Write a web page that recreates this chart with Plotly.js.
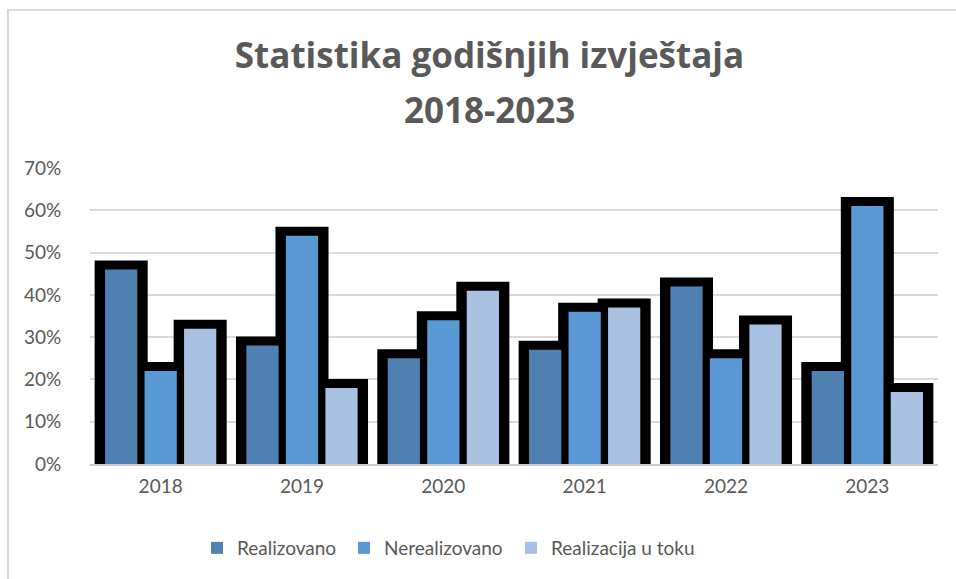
<!DOCTYPE html>
<html>
<head>
<meta charset="utf-8">
<script src="https://cdn.plot.ly/plotly-3.0.1.min.js"></script>
<style>
  html, body { margin: 0; padding: 0; background: #ffffff; overflow: hidden; }
  #wrap { position: absolute; left: 0; top: 0; width: 956px; height: 579px; }
  #frame { position: absolute; left: 7px; top: 9px; width: 1000px; height: 1000px;
           border-top: 2px solid #d9d9d9; border-left: 2px solid #d9d9d9; pointer-events: none; }
  #chart { position: absolute; left: 0; top: 0; width: 956px; height: 579px; }
</style>
</head>
<body>
<div id="wrap">
  <div id="chart"></div>
  <div id="frame"></div>
</div>
<script>
// ---- data ----
const years = ['2018', '2019', '2020', '2021', '2022', '2023'];
const realizovano = [0.46, 0.28, 0.25, 0.27, 0.42, 0.22];
const nerealizovano = [0.22, 0.54, 0.34, 0.36, 0.25, 0.61];
const realizacijaUToku = [0.32, 0.18, 0.41, 0.37, 0.33, 0.17];
const seriesNames = ['Realizovano', 'Nerealizovano', 'Realizacija u toku'];
const yTickVals = [0, 0.1, 0.2, 0.3, 0.4, 0.5, 0.6, 0.7];
const yTickText = ['0%', '10%', '20%', '30%', '40%', '50%', '60%', '70%'];
const titleLine1 = 'Statistika godišnjih izvještaja';
const titleLine2 = '2018-2023';

// ---- styling ----
const fillColors = ['#4f81b2', '#5a99d6', '#a9c1e1'];
const centers = [-0.2795, 0, 0.2795];
const fillW = 0.228;
const blackW = 0.248;
const allSeries = [realizovano, nerealizovano, realizacijaUToku];
const textColor = '#595959';
const font = 'Lato, "Open Sans", sans-serif';
const titleFont = '"Open Sans", Lato, sans-serif';
const legendIds = ['legend', 'legend2', 'legend3'];
const legendX = [197, 344, 511];

const traces = [];
// black backing bars (outline)
allSeries.forEach((vals, i) => {
  traces.push({
    type: 'bar', x: years, y: vals,
    width: blackW, offset: centers[i] - blackW / 2,
    marker: { color: '#000000', line: { color: '#000000', width: 18 } },
    showlegend: false, hoverinfo: 'skip'
  });
});
// coloured fills
allSeries.forEach((vals, i) => {
  traces.push({
    type: 'bar', x: years, y: vals, name: seriesNames[i],
    legend: legendIds[i],
    width: fillW, offset: centers[i] - fillW / 2,
    marker: { color: fillColors[i], line: { width: 0 } }
  });
});

const layout = {
  width: 956, height: 579,
  paper_bgcolor: 'rgba(0,0,0,0)', plot_bgcolor: 'rgba(0,0,0,0)',
  margin: { l: 90, r: 18, t: 168, b: 115 },
  barmode: 'overlay',
  font: { family: font, color: textColor, size: 19 },
  title: {
    text: titleLine1,
    font: { family: titleFont, size: 35, color: textColor, weight: 'bold' },
    xref: 'container', x: 0.512, xanchor: 'center',
    yref: 'container', y: 1 - 56 / 579, yanchor: 'middle'
  },
  annotations: [{
    text: titleLine2, showarrow: false,
    xref: 'paper', x: (489 - 90) / 848, xanchor: 'center',
    yref: 'paper', y: 1 + (168 - 109) / 296, yanchor: 'middle',
    font: { family: titleFont, size: 35, color: textColor, weight: 'bold' }
  }],
  xaxis: {
    type: 'category', range: [-0.5, 5.5],
    showgrid: false, zeroline: false,
    showline: true, linecolor: '#c9c9c9', linewidth: 2,
    ticks: 'outside', ticklen: 4, tickcolor: 'rgba(0,0,0,0)',
    tickfont: { family: font, size: 19, color: textColor }
  },
  yaxis: {
    range: [0, 0.7], tickvals: yTickVals, ticktext: yTickText,
    showgrid: true, gridcolor: '#d9d9d9', gridwidth: 2,
    zeroline: false, showline: false,
    ticks: 'outside', ticklen: 24, tickcolor: 'rgba(0,0,0,0)',
    tickfont: { family: font, size: 19, color: textColor }
  },
  showlegend: true
};
legendIds.forEach((id, i) => {
  layout[id] = {
    orientation: 'h',
    xref: 'container', x: legendX[i] / 956, xanchor: 'left',
    yref: 'container', y: 1 - 548 / 579, yanchor: 'middle',
    font: { family: font, size: 19, color: textColor },
    itemwidth: 30, bgcolor: 'rgba(0,0,0,0)'
  };
});

Plotly.newPlot('chart', traces, layout, { displayModeBar: false, staticPlot: true });
</script>
</body>
</html>
